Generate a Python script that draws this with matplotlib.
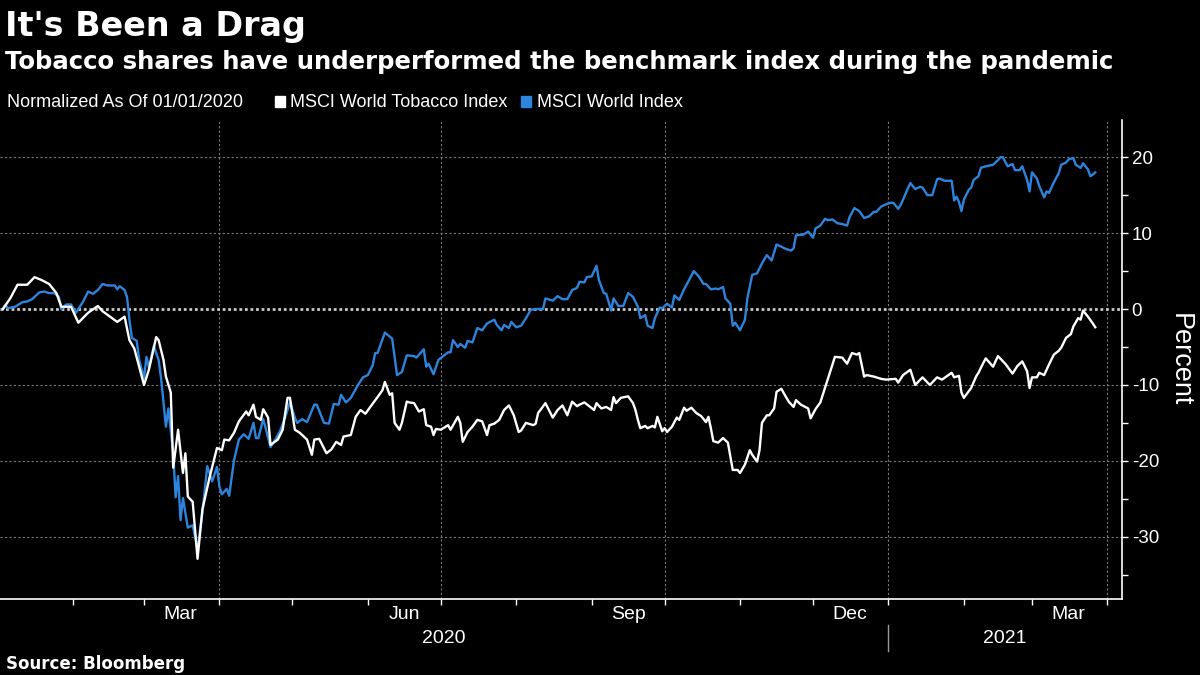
import matplotlib
matplotlib.use("Agg")
import matplotlib.pyplot as plt
import matplotlib.dates as mdates
import matplotlib.transforms as mtransforms
from matplotlib.ticker import MultipleLocator, NullFormatter
import pandas as pd

plt.rcParams["axes.unicode_minus"] = False

# ── data ──────────────────────────────────────────────────────────────────────
# days since 2020-01-01, percent change vs 01/01/2020
tobacco_day = [
    2, 5, 8, 12, 15, 18, 21, 24, 26, 30, 33, 37, 41, 43, 46, 49, 52, 54, 56, 60,
    62, 65, 66, 68, 69, 71, 72, 74, 76, 77, 78, 80, 82, 84, 87, 90, 92, 93, 95, 97,
    99, 102, 103, 105, 106, 108, 109, 111, 112, 115, 117, 119, 120, 122, 124, 127,
    129, 130, 132, 135, 137, 139, 141, 142, 145, 147, 149, 151, 153, 156, 158, 159,
    161, 162, 163, 165, 166, 168, 169, 171, 173, 175, 176, 178, 179, 180, 182, 185,
    186, 189, 190, 191, 193, 195, 197, 199, 201, 202, 204, 206, 208, 210, 212, 214,
    215, 217, 220, 221, 222, 225, 228, 230, 232, 234, 236, 238, 239, 241, 243, 245,
    246, 248, 250, 252, 253, 254, 256, 259, 261, 262, 263, 264, 266, 267, 269, 270,
    271, 273, 274, 275, 277, 279, 280, 282, 283, 285, 287, 289, 291, 292, 293, 294,
    296, 298, 300, 302, 304, 305, 307, 309, 310, 312, 313, 314, 316, 317, 319, 320,
    322, 323, 325, 327, 328, 330, 333, 334, 336, 338, 341, 344, 347, 349, 351, 353,
    354, 356, 357, 360, 363, 365, 369, 370, 372, 375, 377, 380, 383, 386, 388, 392,
    393, 395, 396, 397, 400, 402, 403, 405, 406, 409, 411, 414, 417, 419, 421, 423,
    424, 425, 427, 428, 430, 432, 434, 436, 437, 439, 441, 442, 444, 445, 446, 448,
    450, 451,
]
tobacco_pct = [
    0, 1.4, 3.2, 3.2, 4.2, 3.8, 3.3, 2.1, 0.3, 0.3, -1.8, -0.5, 0.4, -0.3, -1.0, -1.7, -1.0, -4.1, -5.2, -10.0,
    -8.0, -3.7, -4.1, -6.7, -8.9, -11, -20.9, -15.9, -21.6, -19, -24.7, -25.4, -32.9, -26.4, -22.1, -18.3, -18.6, -17.2, -17.3, -16.3,
    -14.8, -13.5, -14, -12.6, -14.2, -14.6, -13.2, -14.3, -17.9, -17.2, -15.9, -11.7, -11.7, -15.9, -16.3, -17.2,
    -19.2, -17.2, -17.1, -19, -18.5, -17.5, -17.9, -16.8, -16.6, -14.2, -13.3, -13.8, -12.9, -11.6, -10.7, -9.6,
    -11.3, -11.1, -15, -15.9, -15, -12.2, -12.3, -12.4, -13.5, -13.2, -15.3, -15.5, -16.6, -15.8, -15.9, -15.3,
    -15.9, -14.2, -15, -17.5, -16.2, -15.5, -14.6, -14.8, -16.6, -15.3, -15.1, -14.6, -13.3, -12.7, -14, -16.2,
    -16, -15, -15.3, -15.1, -13.7, -12.4, -14.3, -13.3, -12.7, -14, -12.2, -12.8, -12.6, -12.3, -12.8, -13.3,
    -12.4, -13.1, -12.9, -13.3, -11.6, -12.4, -11.7, -11.5, -12.4, -13.3, -14.6, -15.7, -15.4, -15.7, -15.4, -15.6,
    -14.2, -16.1, -15.7, -16.2, -15.5, -14.3, -14.6, -13, -13.4, -13, -13.7, -14.1, -14.9, -14.2, -15.7, -17.4,
    -17.6, -17, -17.6, -21.2, -21.2, -21.6, -20.5, -18.6, -19.2, -20.1, -18.6, -15, -14, -14, -13.1, -10.9,
    -10.5, -11.1, -12.2, -12.9, -12, -12.6, -13.1, -14.4, -13.2, -12.3, -9.3, -6.3, -6.4, -7.2, -5.8, -6,
    -5.8, -8.9, -8.7, -8.9, -9.2, -9.3, -9.2, -9.7, -8.7, -8, -10, -9, -10, -9, -9.3, -8.4,
    -9, -8.8, -11, -11.7, -10.4, -8.9, -8.4, -7.1, -6.5, -7.6, -6.2, -7.2, -8.5, -7.5, -6.9, -8.2,
    -10.4, -9, -9, -8.4, -8.7, -7.3, -6, -5.5, -5.1, -3.8, -3.3, -2.3, -1.2, -1.4, -0.2, -1,
    -1.9, -2.4,
]

world_day = [
    2, 3, 4, 7, 10, 12, 14, 17, 19, 21, 23, 25, 26, 28, 30, 32, 35, 37, 39, 41,
    43, 45, 48, 49, 50, 52, 53, 54, 55, 57, 58, 60, 61, 62, 64, 66, 67, 69, 70, 72,
    73, 74, 75, 76, 78, 80, 81, 82, 84, 86, 88, 90, 91, 92, 94, 95, 97, 99, 101, 103,
    105, 106, 107, 109, 110, 112, 114, 116, 118, 120, 122, 123, 125, 127, 130, 131,
    134, 136, 138, 140, 141, 143, 145, 148, 150, 152, 154, 155, 156, 159, 162, 164,
    166, 168, 171, 172, 175, 176, 177, 179, 181, 183, 185, 186, 187, 189, 190, 192,
    193, 195, 197, 199, 201, 204, 205, 207, 208, 210, 211, 213, 215, 217, 219, 221,
    224, 225, 228, 230, 232, 234, 236, 238, 239, 241, 242, 244, 246, 247, 249, 250,
    252, 253, 255, 257, 259, 261, 263, 264, 266, 267, 269, 270, 272, 273, 275, 277,
    278, 280, 282, 284, 286, 288, 290, 291, 293, 295, 296, 298, 299, 301, 302, 303,
    305, 307, 308, 310, 312, 314, 316, 318, 320, 322, 324, 326, 327, 328, 331, 333,
    335, 336, 338, 340, 341, 343, 345, 347, 349, 350, 352, 354, 356, 358, 360, 361,
    363, 365, 367, 368, 370, 371, 372, 374, 375, 377, 379, 380, 382, 384, 386, 387,
    389, 392, 393, 394, 395, 396, 397, 399, 400, 401, 403, 404, 406, 409, 411, 412,
    413, 415, 417, 418, 420, 421, 423, 424, 425, 427, 428, 430, 431, 432, 434, 436,
    437, 439, 440, 442, 443, 445, 446, 448, 449, 450, 451,
]
world_pct = [
    0, 0.6, 0.1, 0.3, 0.9, 1, 1.3, 2.2, 2.3, 2.1, 2.1, 1.6, 0, 0.6, 0.6, -0.5, 1, 2.3, 2, 2.5,
    3.3, 3.1, 3.1, 2.6, 3, 2.5, 1.6, -1.4, -3.8, -4.2, -6.7, -9.1, -6.3, -7.7, -4.9, -6.7, -9.1, -15.5, -13.1, -19,
    -24.8, -22, -27.8, -24.9, -28.8, -28.5, -30, -31.7, -26.8, -20.7, -22.7, -20.8, -23.4, -24.4, -23.7, -24.6, -19.9, -17.2, -16.5, -17.1,
    -15, -17, -17, -14.5, -15.7, -18.2, -17.2, -16, -14.3, -12.3, -14.3, -15, -14.5, -14.9, -12.6, -12.6,
    -15, -15.1, -12.5, -12.6, -11.3, -12.3, -11.7, -10, -9, -8.7, -7.4, -5.8, -5.8, -3.1, -3.9, -8.7,
    -8.3, -6.1, -6.2, -6.4, -5.3, -7.6, -7.2, -8.6, -6.7, -6.2, -5.7, -5.7, -4.1, -5, -4.6, -5.1,
    -4.2, -4.4, -2.5, -2.8, -1.9, -1.4, -2.1, -2.8, -2.1, -2.5, -1.7, -2.4, -2.2, -1.2, -0.1, 0,
    0, 1.4, 1.1, 1.7, 1.3, 1.3, 2.5, 2.8, 3.6, 3.5, 4.2, 4.3, 5.7, 3.8, 2.1, 2.0,
    -0.2, 1.4, 0.4, 0.4, 2.1, 1.6, 0.3, -1.2, -0.8, -2.2, -2.5, -1.2, 0.2, 0.1, 0.7, 0.2,
    1.8, 1.2, 2.6, 3.8, 5, 4.3, 3.3, 3.3, 2.6, 2.7, 2.6, 2.9, 1.4, 0.7, -2.2, -1.8,
    -2.8, -1.4, 1.4, 4.5, 4.7, 6, 7.1, 6.4, 8.5, 8.2, 7.9, 7.7, 8, 9.7, 9.8, 10.2,
    9.4, 10.6, 11, 11.9, 11.7, 11.8, 11.3, 11.2, 11, 12.1, 13.3, 12.9, 12, 12.2, 12.8, 12.8,
    13.5, 13.8, 14, 14, 13.2, 13.7, 14.4, 15.9, 16.6, 15.8, 16.1, 16, 15, 15, 17.1, 17.2,
    16.9, 16.9, 14.3, 14.8, 14.1, 12.9, 14.4, 15.7, 16, 17, 17.5, 18.6, 18.8, 19, 19.6, 20,
    20, 18.8, 19.1, 18.3, 18.3, 18.8, 17, 15.5, 18, 17.2, 16.2, 14.7, 15.5, 15.3, 16.7, 17.9,
    19, 19.3, 19.7, 19.9, 19, 18.6, 19.2, 18.4, 17.5, 17.7, 18,
]

base_date = pd.Timestamp("2020-01-01")
tobacco_dates = base_date + pd.to_timedelta(tobacco_day, unit="D")
world_dates = base_date + pd.to_timedelta(world_day, unit="D")

BG = "black"
WHITE = "#ffffff"
BLUE = "#2d84dc"
GRID = "#7a7a7a"
LABEL_FONT = ["Liberation Sans", "DejaVu Sans"]

# ── figure ────────────────────────────────────────────────────────────────────
fig = plt.figure(figsize=(12, 6.75), dpi=100, facecolor=BG)
ax = fig.add_axes([0.0, 0.1126, 0.935, 0.7096], facecolor=BG)

ax.plot(world_dates, world_pct, color=BLUE, lw=1.7, zorder=4)
ax.plot(tobacco_dates, tobacco_pct, color=WHITE, lw=1.7, zorder=5)

x0 = base_date + pd.Timedelta(days=0.8)
x1 = base_date + pd.Timedelta(days=462)
ax.set_xlim(x0, x1)
ax.set_ylim(-38.2, 24.9)

# grid
for yv in [-30, -20, -10, 10, 20]:
    ax.axhline(yv, color=GRID, lw=0.8, ls=(0, (2, 2)), zorder=1)
ax.axhline(0, color="#c9c9c9", lw=2.0, ls=(0, (1, 1)), zorder=2)
for q in pd.date_range("2020-04-01", "2021-04-01", freq="QS"):
    ax.axvline(q, color=GRID, lw=0.8, ls=(0, (2, 2)), zorder=1)

# spines
for s in ["left", "top"]:
    ax.spines[s].set_visible(False)
for s in ["bottom", "right"]:
    ax.spines[s].set_color(WHITE)
    ax.spines[s].set_linewidth(1.2)

# y axis on the right
ax.yaxis.tick_right()
ax.yaxis.set_label_position("right")
ax.yaxis.set_major_locator(MultipleLocator(10))
ax.yaxis.set_minor_locator(MultipleLocator(5))
ax.tick_params(axis="y", which="major", colors=WHITE, length=4, width=1, pad=3, labelsize=13.5)
ax.tick_params(axis="y", which="minor", colors=WHITE, length=4, width=1)
for lbl in ax.get_yticklabels():
    lbl.set_family(LABEL_FONT)
ax.set_ylabel("Percent", color=WHITE, fontsize=19.5, rotation=270, labelpad=24,
              family=LABEL_FONT)

# x axis: month ticks, quarter-month labels
ax.xaxis.set_major_locator(mdates.MonthLocator())
ax.xaxis.set_major_formatter(NullFormatter())
ax.xaxis.set_minor_locator(mdates.MonthLocator(bymonth=(3, 6, 9, 12), bymonthday=16))
ax.xaxis.set_minor_formatter(mdates.DateFormatter("%b"))
ax.tick_params(axis="x", which="major", colors=WHITE, length=4, width=1)
ax.tick_params(axis="x", which="minor", length=0, pad=5, labelcolor=WHITE, labelsize=14)
for lbl in ax.get_xticklabels(minor=True):
    lbl.set_family(LABEL_FONT)

# year labels with separator
trans = mtransforms.blended_transform_factory(ax.transData, ax.transAxes)
ny = pd.Timestamp("2021-01-01")
x0n, x1n, nyn = mdates.date2num(x0), mdates.date2num(x1), mdates.date2num(ny)
ax.text((x0n + nyn) / 2, -0.082, "2020", transform=trans, color=WHITE,
        fontsize=14, ha="center", va="center", family=LABEL_FONT)
ax.text((nyn + x1n) / 2, -0.082, "2021", transform=trans, color=WHITE,
        fontsize=14, ha="center", va="center", family=LABEL_FONT)
ax.plot([nyn, nyn], [-0.054, -0.109], transform=trans, color="#9a9a9a",
        lw=1, clip_on=False)

# ── titles, legend row, source ────────────────────────────────────────────────
fig.text(0.004, 0.9467, "It's Been a Drag", color=WHITE, fontsize=24,
         fontweight="bold", va="baseline")
fig.text(0.004, 0.8978, "Tobacco shares have underperformed the benchmark index during the pandemic",
         color=WHITE, fontsize=17.6, fontweight="bold", va="baseline")

leg_y = 1 - 107 / 675
fig.text(0.006, leg_y, "Normalized As Of 01/01/2020", color=WHITE, fontsize=13,
         va="baseline", family=LABEL_FONT)
fig.patches.append(plt.Rectangle((275 / 1200, 1 - 107 / 675), 10 / 1200, 11 / 675,
                                 transform=fig.transFigure, color=WHITE))
fig.text(290 / 1200, leg_y, "MSCI World Tobacco Index", color=WHITE, fontsize=13,
         va="baseline", family=LABEL_FONT)
fig.patches.append(plt.Rectangle((521 / 1200, 1 - 107 / 675), 10 / 1200, 11 / 675,
                                 transform=fig.transFigure, color=BLUE))
fig.text(537 / 1200, leg_y, "MSCI World Index", color=WHITE, fontsize=13,
         va="baseline", family=LABEL_FONT)

fig.text(0.005, 1 - 669 / 675, "Source: Bloomberg", color=WHITE, fontsize=12,
         fontweight="bold", va="baseline")

fig.savefig("out.png", dpi=100, facecolor=BG)
